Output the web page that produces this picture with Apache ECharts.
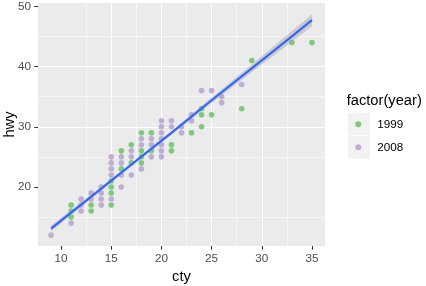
<!DOCTYPE html>
<html><head><meta charset="utf-8">
<script src="https://cdn.jsdelivr.net/npm/echarts@6/dist/echarts.min.js"></script>
<style>html,body{margin:0;padding:0;background:#fff}#c{width:426px;height:286px}</style>
</head><body><div id="c"></div>
<script>
// Points (distinct visible positions)
const cty1999 = [11,11,11,13,13,15,15,15,15,16,16,17,17,18,18,18,18,19,19,21,21,23,24,24,24,25,28,29,33,35];
const hwy1999 = [17,16,15,17,16,21,20,19,17,26,23,27,24,29,26,25,24,29,26,27,26,29,33,32,30,32,33,41,44,44];
const cty2008 = [9,11,12,12,12,13,13,14,14,14,14,15,15,15,15,15,16,16,16,16,17,17,17,18,18,18,19,19,19,20,20,20,20,20,20,20,21,21,22,22,23,23,24,25,26,26,28];
const hwy2008 = [12,14,18,17,16,19,18,20,19,18,17,25,24,23,22,18,25,24,22,20,26,25,22,28,27,23,28,27,25,31,30,29,28,27,26,25,31,30,30,29,32,31,36,36,35,34,37];
// Smooth (lm) line and its confidence band
const fitX = [9, 13, 17, 21, 25, 29, 33, 35];
const fitY = [13.1, 18.4, 23.7, 29.0, 34.4, 39.7, 45.0, 47.7];
const bandLow = [12.6, 18.1, 23.48, 28.7, 33.95, 39.05, 44.12, 46.7];
const bandHigh = [13.6, 18.7, 23.92, 29.3, 34.85, 40.35, 45.88, 48.7];
const xTicks = [10, 15, 20, 25, 30, 35];
const yTicks = [20, 30, 40, 50];
const years = ['1999', '2008'];

const FONT = 'Liberation Sans, Arial, sans-serif';
const pts = (xs, ys) => xs.map((x, i) => [x, ys[i]]);
const chart = echarts.init(document.getElementById('c'), null, {renderer: 'canvas'});
const axisCommon = {
  type: 'value',
  axisLine: {show: false},
  axisTick: {show: true, length: 3.7, lineStyle: {color: '#333333', width: 1.07}},
  axisLabel: {color: '#4D4D4D', fontSize: 11.7, fontFamily: FONT},
  splitLine: {show: true, showMinLine: false, showMaxLine: false, lineStyle: {color: '#FFFFFF', width: 1.07}},
  minorTick: {show: false, splitNumber: 2},
  minorSplitLine: {show: true, lineStyle: {color: '#FFFFFF', width: 0.55}},
  nameLocation: 'middle',
  nameTextStyle: {color: '#000000', fontSize: 14.7, fontFamily: FONT}
};
chart.setOption({
  animation: false,
  grid: {left: 38, right: 101, top: 3, bottom: 40, show: true, backgroundColor: '#EBEBEB', borderWidth: 0,
         containLabel: false, outerBoundsMode: 'none'},
  xAxis: Object.assign({}, axisCommon, {
    min: 7.7, max: 36.3, splitNumber: 6, name: 'cty', nameGap: 23.5,
    axisTick: Object.assign({}, axisCommon.axisTick, {customValues: xTicks}),
    axisLabel: Object.assign({}, axisCommon.axisLabel, {margin: 7, customValues: xTicks})
  }),
  yAxis: Object.assign({}, axisCommon, {
    min: 10.2, max: 50.55, splitNumber: 4,
    axisTick: Object.assign({}, axisCommon.axisTick, {customValues: yTicks}),
    axisLabel: Object.assign({}, axisCommon.axisLabel, {margin: 7, customValues: yTicks})
  }),
  legend: {
    data: years, orient: 'vertical', left: 355.3, top: 112.8, padding: 0, itemGap: 0,
    itemWidth: 6, itemHeight: 6, icon: 'circle',
    textStyle: {color: '#000000', fontSize: 11.7, fontFamily: FONT, lineHeight: 23, padding: [0, 0, 0, 11]}
  },
  graphic: [
    {type: 'rect', left: 348, top: 112.8, z: 0, shape: {width: 22, height: 22.5}, style: {fill: '#F2F2F2'}},
    {type: 'rect', left: 348, top: 136.3, z: 0, shape: {width: 22, height: 22.5}, style: {fill: '#F2F2F2'}},
    {type: 'text', left: 346.7, top: 93.5, z: 5, style: {text: 'factor(year)', fill: '#000000', fontSize: 14.7, fontFamily: FONT}},
    {type: 'text', x: 10, y: 124.5, rotation: Math.PI / 2, z: 5,
     style: {text: 'hwy', fill: '#000000', fontSize: 14.7, fontFamily: FONT, textAlign: 'center', textVerticalAlign: 'middle'}}
  ],
  series: [
    {name: years[0], type: 'scatter', symbol: 'circle', symbolSize: 5.6, itemStyle: {color: '#7FC97F', opacity: 1}, data: pts(cty1999, hwy1999), z: 3},
    {name: years[1], type: 'scatter', symbol: 'circle', symbolSize: 5.6, itemStyle: {color: '#BEAED4', opacity: 1}, data: pts(cty2008, hwy2008), z: 3},
    {name: 'band', type: 'custom', silent: true, z: 4, data: [[fitX[0], bandLow[0]]],
     renderItem: function (params, api) {
       const poly = [];
       for (let i = 0; i < fitX.length; i++) poly.push(api.coord([fitX[i], bandHigh[i]]));
       for (let i = fitX.length - 1; i >= 0; i--) poly.push(api.coord([fitX[i], bandLow[i]]));
       return {type: 'polygon', shape: {points: poly}, style: {fill: 'rgba(153,153,153,0.4)'}};
     }},
    {name: 'fit', type: 'line', symbol: 'none', lineStyle: {color: '#3366FF', width: 2.2}, data: pts(fitX, fitY), z: 5, silent: true}
  ]
});
</script></body></html>
